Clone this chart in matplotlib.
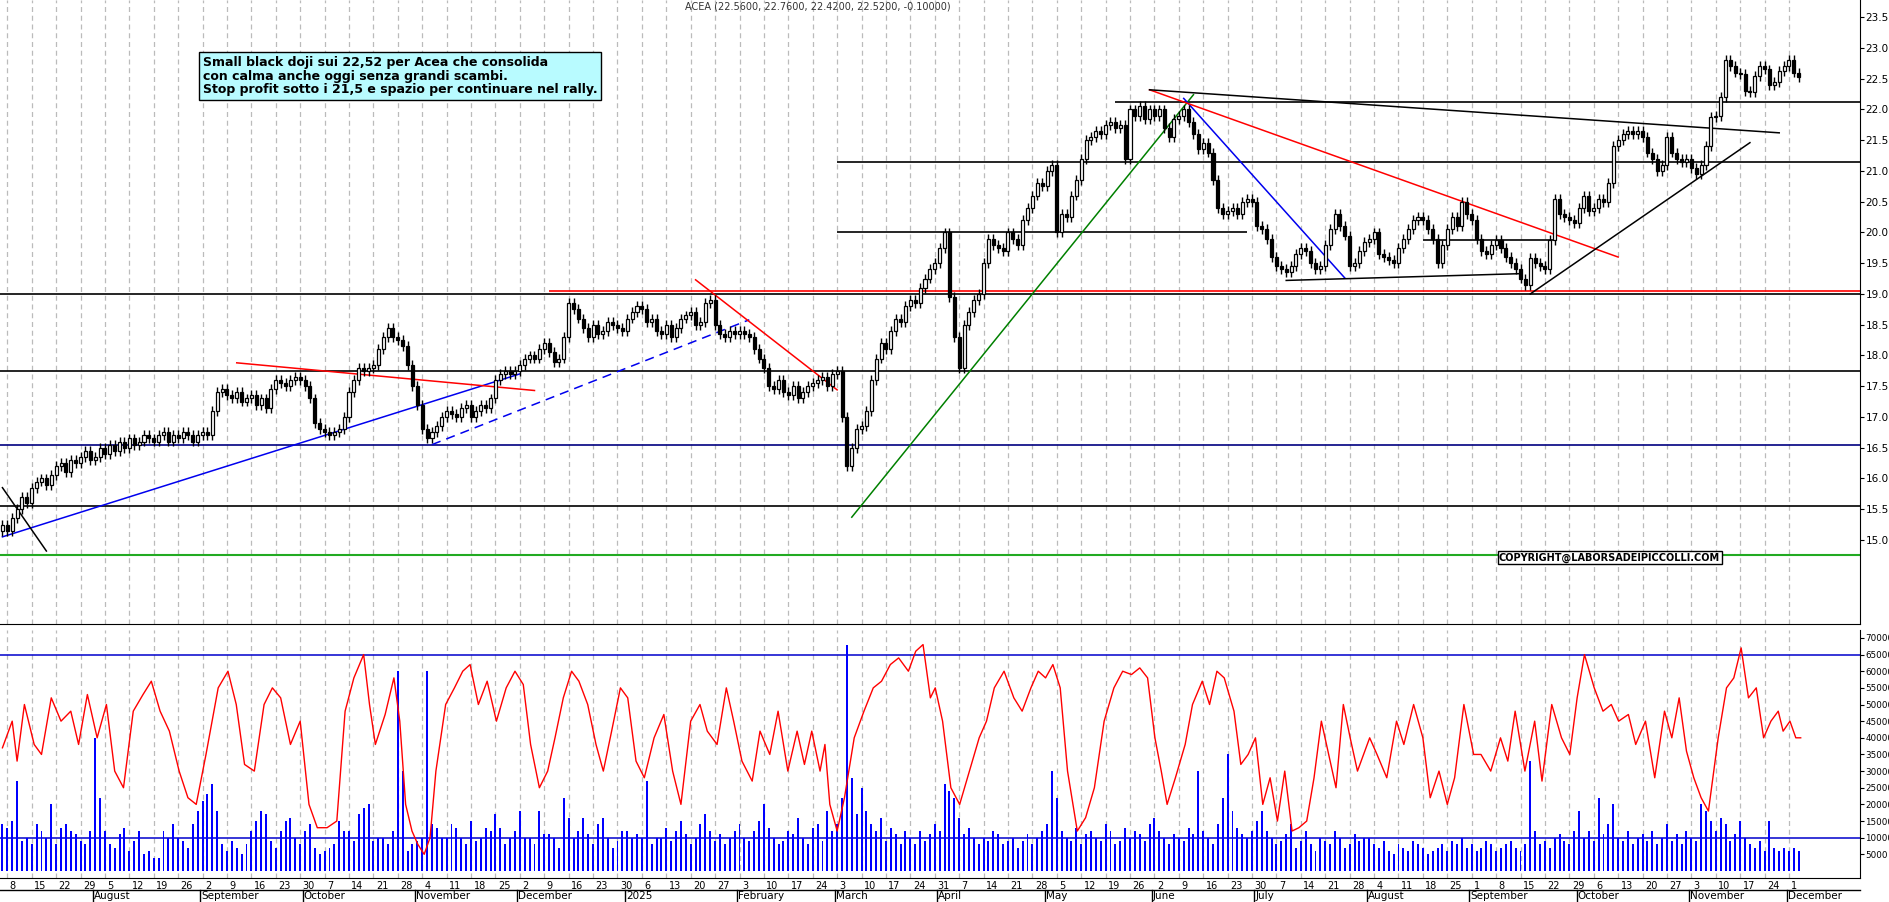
import matplotlib
matplotlib.use("Agg")
import matplotlib.pyplot as plt
import numpy as np
import pandas as pd

# ---- daily closes, one list per month ----
close_2024_07 = [15.25, 15.15, 15.35, 15.5, 15.7, 15.6, 15.85, 15.95, 16.0, 15.9, 16.05, 16.2, 16.25, 16.1, 16.3, 16.25, 16.35, 16.45, 16.3]
close_2024_08 = [16.35, 16.5, 16.4, 16.55, 16.45, 16.6, 16.5, 16.65, 16.55, 16.6, 16.7, 16.65, 16.6, 16.7, 16.75, 16.6, 16.7, 16.65, 16.75, 16.7, 16.6, 16.7]
close_2024_09 = [16.75, 16.7, 17.1, 17.4, 17.45, 17.35, 17.3, 17.4, 17.25, 17.3, 17.35, 17.2, 17.3, 17.15, 17.45, 17.6, 17.55, 17.5, 17.6, 17.65, 17.6]
close_2024_10 = [17.5, 17.3, 16.9, 16.8, 16.75, 16.7, 16.75, 16.8, 17.0, 17.4, 17.6, 17.8, 17.75, 17.8, 17.85, 18.1, 18.3, 18.45, 18.3, 18.25, 18.15, 17.85, 17.5]
close_2024_11 = [17.2, 16.8, 16.65, 16.75, 16.85, 17.0, 17.1, 17.05, 17.0, 17.15, 17.2, 17.0, 17.1, 17.2, 17.15, 17.3, 17.6, 17.7, 17.75, 17.7, 17.75]
close_2024_12 = [17.85, 17.95, 18.0, 17.95, 18.1, 18.2, 18.05, 17.9, 17.95, 18.3, 18.85, 18.75, 18.6, 18.45, 18.3, 18.5, 18.35, 18.4, 18.55, 18.5, 18.45, 18.4]
close_2025_01 = [18.6, 18.7, 18.8, 18.75, 18.55, 18.6, 18.4, 18.35, 18.5, 18.3, 18.45, 18.6, 18.65, 18.7, 18.5, 18.55, 18.85, 18.9, 18.5, 18.35, 18.3, 18.4, 18.35]
close_2025_02 = [18.4, 18.35, 18.3, 18.1, 17.95, 17.8, 17.5, 17.45, 17.6, 17.4, 17.35, 17.5, 17.3, 17.4, 17.5, 17.55, 17.6, 17.65, 17.5, 17.7]
close_2025_03 = [17.75, 17.0, 16.2, 16.5, 16.8, 16.85, 17.1, 17.6, 17.95, 18.2, 18.1, 18.4, 18.6, 18.55, 18.8, 18.9, 18.85, 19.1, 19.25, 19.4, 19.5]
close_2025_04 = [19.75, 20.0, 18.95, 18.3, 17.8, 18.5, 18.7, 18.9, 19.0, 19.5, 19.9, 19.8, 19.75, 19.7, 20.0, 19.9, 19.8, 20.2, 20.4, 20.6, 20.8, 20.75]
close_2025_05 = [21.0, 21.1, 20.0, 20.3, 20.25, 20.6, 20.85, 21.2, 21.5, 21.55, 21.65, 21.6, 21.75, 21.8, 21.7, 21.75, 21.2, 22.0, 21.9, 22.05, 21.85, 22.0]
close_2025_06 = [21.9, 22.0, 21.7, 21.55, 21.85, 21.9, 22.0, 21.8, 21.6, 21.35, 21.45, 21.3, 20.85, 20.4, 20.3, 20.35, 20.4, 20.3, 20.5, 20.55, 20.5]
close_2025_07 = [20.1, 20.05, 19.9, 19.6, 19.45, 19.4, 19.35, 19.45, 19.65, 19.75, 19.7, 19.5, 19.4, 19.45, 19.8, 20.05, 20.3, 20.1, 19.95, 19.45, 19.5, 19.7, 19.85]
close_2025_08 = [19.9, 20.0, 19.65, 19.6, 19.55, 19.5, 19.75, 19.9, 20.05, 20.2, 20.25, 20.2, 20.05, 19.9, 19.5, 19.8, 20.05, 20.25, 20.1, 20.5, 20.3]
close_2025_09 = [20.2, 19.9, 19.7, 19.65, 19.8, 19.88, 19.75, 19.6, 19.5, 19.4, 19.25, 19.15, 19.58, 19.5, 19.45, 19.4, 19.88, 20.55, 20.3, 20.25, 20.2, 20.15]
close_2025_10 = [20.4, 20.6, 20.35, 20.4, 20.55, 20.5, 20.8, 21.4, 21.5, 21.6, 21.65, 21.6, 21.65, 21.55, 21.3, 21.2, 21.0, 21.1, 21.55, 21.3, 21.2, 21.15, 21.2]
close_2025_11 = [21.05, 20.95, 21.1, 21.4, 21.88, 21.9, 22.2, 22.8, 22.7, 22.6, 22.58, 22.3, 22.28, 22.55, 22.7, 22.65, 22.4, 22.45, 22.63, 22.7]
close_2025_12 = [22.8, 22.6, 22.52]

# ---- daily volume in thousands, one list per month ----
vol_2024_07 = [14, 13, 15, 27, 9, 10, 8, 14, 12, 10, 20, 8, 13, 14, 12, 11, 9, 8, 12]
vol_2024_08 = [40, 22, 12, 8, 7, 11, 13, 6, 9, 12, 5, 6, 4, 4, 12, 10, 14, 10, 9, 7, 14, 18]
vol_2024_09 = [21, 23, 26, 18, 8, 6, 9, 7, 5, 8, 12, 15, 18, 17, 9, 7, 12, 15, 16, 10, 8]
vol_2024_10 = [12, 14, 7, 5, 6, 7, 8, 15, 12, 12, 9, 17, 19, 20, 9, 10, 10, 8, 12, 60, 30, 6, 8]
vol_2024_11 = [9, 10, 60, 14, 13, 10, 10, 14, 13, 10, 8, 15, 9, 10, 13, 12, 17, 13, 8, 10, 12]
vol_2024_12 = [18, 10, 10, 8, 18, 11, 11, 10, 7, 22, 16, 10, 12, 16, 11, 8, 14, 16, 10, 7, 9, 12]
vol_2025_01 = [12, 10, 11, 10, 27, 8, 10, 10, 13, 9, 12, 15, 11, 8, 10, 14, 17, 12, 9, 11, 8, 10, 12]
vol_2025_02 = [14, 10, 9, 12, 15, 20, 13, 10, 8, 9, 12, 11, 16, 10, 8, 13, 14, 9, 18, 12]
vol_2025_03 = [14, 22, 68, 28, 17, 25, 18, 14, 12, 16, 9, 13, 11, 8, 12, 10, 8, 12, 9, 11, 14]
vol_2025_04 = [12, 26, 24, 22, 16, 11, 13, 10, 8, 10, 9, 12, 11, 8, 9, 10, 7, 9, 11, 8, 10, 12]
vol_2025_05 = [14, 30, 22, 12, 10, 9, 13, 8, 11, 12, 10, 9, 14, 12, 8, 9, 13, 10, 12, 11, 9, 14]
vol_2025_06 = [16, 12, 10, 8, 11, 10, 9, 13, 11, 30, 12, 10, 8, 14, 22, 35, 18, 13, 11, 10, 12]
vol_2025_07 = [15, 18, 12, 10, 8, 9, 11, 14, 7, 9, 12, 8, 6, 10, 9, 8, 12, 10, 7, 8, 11, 9, 10]
vol_2025_08 = [10, 8, 7, 9, 6, 5, 8, 7, 6, 9, 8, 7, 5, 6, 7, 8, 6, 9, 8, 10, 7]
vol_2025_09 = [8, 6, 7, 9, 8, 6, 7, 8, 9, 7, 6, 8, 33, 12, 8, 9, 7, 10, 11, 9, 8, 12]
vol_2025_10 = [18, 10, 12, 9, 22, 11, 14, 20, 10, 9, 12, 8, 10, 11, 9, 12, 8, 10, 14, 9, 11, 8, 12]
vol_2025_11 = [10, 9, 20, 18, 15, 12, 16, 14, 9, 11, 15, 10, 8, 7, 9, 6, 15, 7, 6, 7]
vol_2025_12 = [6, 7, 6]

# ---- red oscillator line in the volume panel (trading-day index, thousands) ----
osc_idx = [0, 2, 3, 4.5, 6.5, 8, 10, 12, 14, 15.6, 17.4, 19.4, 21.3, 23, 24.8, 26.8, 28.8, 30.5, 32.3, 34.2, 36.2, 38, 39.7, 41.7, 44.2, 46.2, 47.9, 49.6, 51.6, 53.6, 55.3, 57, 59, 61, 62.8, 64.5, 66.5, 68.5, 70.2, 72, 74, 75.2, 76.4, 78.4, 80.2, 81.4, 82.6, 83.9, 85.1, 86.4, 87.6, 88.8, 90.8, 92.6, 94.3, 95.8, 97.5, 99.3, 101.2, 103.2, 105, 106.7, 108.2, 110, 111.7, 113.2, 114.9, 116.6, 118.1, 119.9, 121.6, 123.1, 124.8, 126.6, 128.1, 129.8, 131.5, 133.5, 135.5, 137.3, 139, 141, 142.9, 144.4, 146.4, 148.3, 149.8, 151.5, 153.6, 155.2, 157.2, 158.9, 160.9, 162.8, 164.3, 165.8, 167.5, 168.5, 169.5, 171, 172.5, 174.5, 176.5, 178.4, 180.1, 181.9, 183.6, 185.6, 187.1, 188.6, 190.1, 191.1, 192.6, 194.3, 196.1, 198.1, 200.1, 201.6, 203.2, 205.2, 207.2, 208.9, 210.7, 212.2, 213.7, 215.2, 216.7, 218.2, 220.2, 221.9, 223.7, 225.7, 227.7, 229.5, 231.3, 233, 234.6, 236.1, 237.4, 238.6, 240.3, 242.3, 243.8, 245.8, 247.3, 248.8, 250.3, 252.3, 253.7, 255.2, 256.7, 258.2, 259.7, 261.2, 262.7, 264.2, 265.6, 267.2, 268.7, 270.2, 271.7, 273.2, 274.7, 276.1, 277.6, 280.1, 281.6, 283.6, 285.6, 287.1, 289.1, 291, 292.5, 294.3, 296, 297.5, 299.4, 301.4, 302.9, 304.9, 306.9, 308.4, 309.9, 311.9, 313.9, 315.4, 317.4, 319.4, 321.1, 322.6, 324.1, 326.1, 327.9, 329.6, 331.1, 333.1, 334.6, 336.6, 338.5, 340.5, 342, 343.5, 345, 346.5, 348, 349.5, 351.5, 353.2, 354.7, 356.2, 357.7, 359.3, 360.8, 362.3, 363.8, 364.8, 366.2, 367.4, 368.4]
osc_val = [37, 45, 33, 50, 38, 35, 52, 45, 48, 38, 53, 40, 50, 30, 25, 48, 53, 57, 48, 42, 30, 22, 20, 35, 55, 60, 50, 32, 30, 50, 55, 52, 38, 45, 20, 13, 13, 15, 48, 58, 65, 50, 38, 47, 58, 45, 20, 12, 8, 5, 10, 30, 50, 55, 60, 62, 50, 57, 45, 55, 60, 56, 38, 25, 30, 40, 52, 60, 57, 50, 38, 30, 42, 55, 52, 33, 28, 40, 47, 30, 20, 45, 50, 42, 38, 55, 45, 33, 27, 42, 35, 48, 30, 42, 32, 42, 30, 38, 20, 12, 22, 40, 48, 55, 57, 62, 64, 60, 66, 68, 52, 55, 45, 25, 20, 30, 40, 45, 55, 60, 52, 48, 55, 60, 58, 62, 55, 30, 12, 16, 25, 45, 55, 60, 59, 61, 58, 40, 30, 20, 28, 38, 50, 57, 50, 60, 58, 48, 32, 35, 40, 20, 28, 15, 30, 12, 13, 15, 28, 45, 35, 25, 50, 40, 30, 40, 35, 28, 45, 38, 50, 40, 22, 30, 20, 28, 50, 35, 35, 30, 40, 33, 48, 30, 45, 27, 50, 40, 35, 52, 65, 55, 48, 50, 45, 47, 38, 45, 28, 48, 40, 52, 36, 28, 22, 18, 40, 55, 58, 67, 52, 55, 40, 45, 48, 42, 45, 40, 40]

# ---- drawn levels and trendlines (trading-day index, price) ----
hlines_black = [(0, 19.0), (0, 17.74), (0, 15.55)]
hline_navy = 16.55
hline_green = 14.75
hline_red = (112, 19.05)
hlines_partial = [(228, 22.12), (171, 21.14), (171, 20.0, 255), (291, 19.88, 318)]
trend_lines = [
    ((0, 15.05), (106, 17.7), "#0000ee", "-"),
    ((0, 15.85), (9, 14.82), "black", "-"),
    ((48, 17.88), (109, 17.43), "red", "-"),
    ((88, 16.55), (153, 18.58), "#0000ee", (0, (6, 4))),
    ((142, 19.23), (171, 17.44), "red", "-"),
    ((174, 15.37), (244, 22.24), "green", "-"),
    ((242, 22.18), (275, 19.26), "#0000ee", "-"),
    ((235, 22.32), (331, 19.6), "red", "-"),
    ((235, 22.32), (364, 21.62), "black", "-"),
    ((263, 19.22), (311, 19.33), "black", "-"),
    ((313, 19.0), (358, 21.46), "black", "-"),
]
vol_levels = [65, 10]

closes = np.array(close_2024_07 + close_2024_08 + close_2024_09 + close_2024_10 + close_2024_11
                  + close_2024_12 + close_2025_01 + close_2025_02 + close_2025_03 + close_2025_04
                  + close_2025_05 + close_2025_06 + close_2025_07 + close_2025_08 + close_2025_09
                  + close_2025_10 + close_2025_11 + close_2025_12)
vols = np.array(vol_2024_07 + vol_2024_08 + vol_2024_09 + vol_2024_10 + vol_2024_11
                + vol_2024_12 + vol_2025_01 + vol_2025_02 + vol_2025_03 + vol_2025_04
                + vol_2025_05 + vol_2025_06 + vol_2025_07 + vol_2025_08 + vol_2025_09
                + vol_2025_10 + vol_2025_11 + vol_2025_12) * 1000.0
n = min(len(closes), len(vols))
closes, vols = closes[:n], vols[:n]
opens = np.concatenate([[closes[0] - 0.1], closes[:-1]])
x = np.arange(n)
dates = pd.bdate_range("2024-07-05", periods=n)
k = min(len(osc_idx), len(osc_val))

X0, X1 = -0.5, n - 1 + 12.5

fig = plt.figure(figsize=(18.9, 9.02), dpi=100)
ax = fig.add_axes([0.0, 0.308, 0.984, 0.692])
axv = fig.add_axes([0.0, 0.027, 0.984, 0.275])

for a in (ax, axv):
    for d_i, d in enumerate(dates):
        if d.weekday() == 0:
            a.axvline(d_i, color="#bbbbbb", linestyle=(0, (4, 3)), linewidth=0.9, zorder=0)
    a.set_xlim(X0, X1)
    a.yaxis.tick_right()
    a.set_xticks([])
    for s in ("top", "left"):
        a.spines[s].set_visible(False)
    a.tick_params(axis="y", labelsize=7.5, length=3, direction="out", pad=1)
axv.tick_params(axis="y", labelsize=6.3, pad=1)

# candles
pad = 0.08
up = closes >= opens
hi = np.maximum(opens, closes) + pad
lo = np.minimum(opens, closes) - pad
ax.vlines(x, lo, hi, color="black", linewidth=1.0, zorder=3)
body_h = np.abs(closes - opens)
body_h = np.where(body_h < 0.02, 0.02, body_h)
ax.bar(x[up], body_h[up], bottom=opens[up], width=0.62, color="white",
       edgecolor="black", linewidth=0.9, zorder=4)
ax.bar(x[~up], body_h[~up], bottom=closes[~up], width=0.62, color="black",
       edgecolor="black", linewidth=0.9, zorder=4)

for x0, lvl in hlines_black:
    ax.hlines(lvl, X0, X1, color="black", linewidth=1.2, zorder=2)
ax.axhline(hline_navy, color="#000080", linewidth=1.2, zorder=2)
ax.axhline(hline_green, color="#22aa22", linewidth=1.5, zorder=2)
ax.hlines(hline_red[1], hline_red[0], X1, color="red", linewidth=1.2, zorder=2)
for item in hlines_partial:
    end = item[2] if len(item) > 2 else X1
    ax.hlines(item[1], item[0], end, color="black", linewidth=1.2, zorder=2)
for p0, p1, col, ls in trend_lines:
    ax.plot([p0[0], p1[0]], [p0[1], p1[1]], color=col, linestyle=ls, linewidth=1.1, zorder=2)

ax.set_ylim(13.63, 23.78)
ax.set_yticks(np.arange(15.0, 23.51, 0.5))
ax.yaxis.set_major_formatter(matplotlib.ticker.FormatStrFormatter("%.1f"))

ax.text(0.44, 0.997, "ACEA (22.5600, 22.7600, 22.4200, 22.5200, -0.10000)",
        transform=ax.transAxes, ha="center", va="top", fontsize=7, color="#333333")
ax.text(0.109, 0.91,
        "Small black doji sui 22,52 per Acea che consolida\n"
        "con calma anche oggi senza grandi scambi.\n"
        "Stop profit sotto i 21,5 e spazio per continuare nel rally.",
        transform=ax.transAxes, ha="left", va="top", fontsize=9, fontweight="bold",
        linespacing=1.05,
        bbox=dict(boxstyle="square,pad=0.3", facecolor="#b8fbff", edgecolor="black", linewidth=1))
ax.text(0.806, 0.107, "COPYRIGHT@LABORSADEIPICCOLLI.COM", transform=ax.transAxes,
        ha="left", va="center", fontsize=7, fontweight="bold",
        bbox=dict(boxstyle="square,pad=0.15", facecolor="white", edgecolor="black", linewidth=1))

# volume panel
axv.bar(x, vols, width=0.4, color="#0000ff", zorder=3)
for lvl in vol_levels:
    axv.axhline(lvl * 1000, color="#0000cc", linewidth=1.1, zorder=2)
axv.plot(osc_idx[:k], np.array(osc_val[:k]) * 1000, color="red", linewidth=1.0, zorder=4)
axv.set_ylim(-2000, 72500)
axv.set_yticks(np.arange(5000, 70001, 5000))
axv.yaxis.set_major_formatter(matplotlib.ticker.FuncFormatter(lambda v, p: f"{int(v)}"))

# date labels under the volume panel
prev_month = None
for d_i, d in enumerate(dates):
    if d.weekday() == 0:
        axv.text(d_i + 0.5, -0.012, str(d.day), transform=axv.get_xaxis_transform(),
                 ha="left", va="top", fontsize=7)
    if d.month != prev_month:
        label = "2025" if (d.month == 1) else d.strftime("%B")
        if prev_month is not None:
            axv.text(d_i - 0.3, -0.055, label, transform=axv.get_xaxis_transform(),
                     ha="left", va="top", fontsize=7.5)
            axv.plot([d_i - 0.5, d_i - 0.5], [-0.05, -0.1], color="black", linewidth=1,
                     transform=axv.get_xaxis_transform(), clip_on=False)
        prev_month = d.month
axv.plot([X0, X1], [-0.05, -0.05], color="black", linewidth=1,
         transform=axv.get_xaxis_transform(), clip_on=False)

fig.savefig("out.png", dpi=100)
